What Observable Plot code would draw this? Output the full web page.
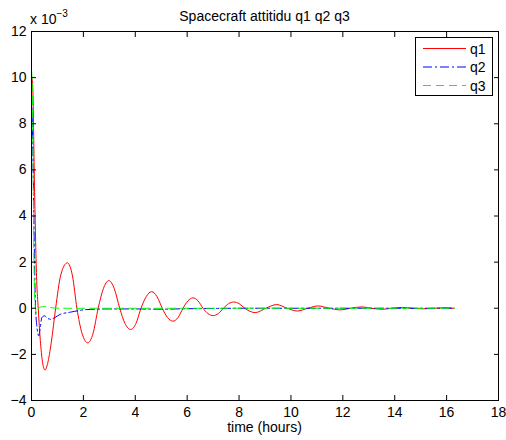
<!DOCTYPE html>
<html>
<head>
<meta charset="utf-8">
<script src="https://cdn.jsdelivr.net/npm/d3@7"></script>
<script src="https://cdn.jsdelivr.net/npm/@observablehq/plot@0.6"></script>
<style>
  html, body { margin: 0; padding: 0; background: #fff; }
  #chart svg { display: block; }
</style>
</head>
<body>
<div id="chart"></div>
<script>
// Values in units of 1e-3 (axis shows "x 10^-3")
const q1T = [0, 0.04, 0.12, 0.2, 0.26, 0.34, 0.42, 0.52, 0.62, 0.76, 0.93, 1.13, 1.38, 1.58, 1.75, 1.95, 2.17, 2.37, 2.57, 2.77, 2.98, 3.19, 3.4, 3.6, 3.82, 4.03, 4.22, 4.42, 4.63, 4.84, 5.04, 5.24, 5.45, 5.65, 5.84, 6.03, 6.22, 6.42, 6.61, 6.8, 7.0, 7.2, 7.4, 7.6, 7.8, 8.0, 8.22, 8.62, 9.03, 9.45, 9.85, 10.25, 10.65, 11.05, 11.47, 11.9, 12.3, 12.73, 13.1, 13.5, 13.9, 14.3, 14.7, 15.1, 15.5, 15.9, 16.3];
const q1V = [10.0, 9.8, 5.0, 1.2, 0, -1.4, -2.3, -2.68, -2.4, -1.5, 0, 1.45, 1.97, 1.4, 0, -1.1, -1.5, -1.1, 0, 0.85, 1.2, 0.85, 0, -0.65, -0.92, -0.65, 0, 0.5, 0.72, 0.5, 0, -0.4, -0.56, -0.4, 0, 0.32, 0.45, 0.32, 0, -0.23, -0.32, -0.23, 0, 0.2, 0.27, 0.2, 0, -0.19, 0, 0.16, 0, -0.12, 0, 0.1, 0, -0.07, 0, 0.06, 0, -0.045, 0, 0.035, 0, -0.025, 0, 0.02, 0.0];

const q2T = [0, 0.04, 0.09, 0.15, 0.2, 0.28, 0.33, 0.4, 0.5, 0.62, 0.75, 0.9, 1.1, 1.5, 2.1, 3.0, 4.0, 5.0, 6.0, 7.0, 8.0, 16.3];
const q2V = [9.2, 7.6, 4.0, 0.2, -0.7, -1.2, -0.9, -0.4, -0.33, -0.44, -0.48, -0.4, -0.27, -0.17, -0.06, -0.03, -0.03, -0.04, -0.02, -0.01, 0, 0];

const q3T = [0, 0.03, 0.06, 0.09, 0.13, 0.19, 0.25, 0.35, 0.5, 0.7, 1.0, 16.3];
const q3V = [10.3, 9.6, 6.5, 2.5, 0.3, -0.2, -0.05, 0.05, 0.08, 0.04, 0.0, 0.0];

const xTicks = [0, 2, 4, 6, 8, 10, 12, 14, 16, 18];
const yTicks = [-4, -2, 0, 2, 4, 6, 8, 10, 12];
const seriesNames = ["q1", "q2", "q3"];
const seriesColors = ["#ff0000", "#0000ff", "#00ff00"];
const seriesDash = [null, "9,3,2,3", "8,5"];

const titleText = "Spacecraft attitidu q1 q2 q3";
const xLabelText = "time (hours)";

const toRows = (T, V) => T.map((t, i) => ({t, v: V[i]}));
const series = [toRows(q1T, q1V), toRows(q2T, q2V), toRows(q3T, q3V)];

const FONT = "'Liberation Sans', Arial, Helvetica, sans-serif";

const chart = Plot.plot({
  width: 506,
  height: 440,
  marginLeft: 31,
  marginRight: 8,
  marginTop: 31,
  marginBottom: 40,
  style: {background: "#fff", fontFamily: FONT, fontSize: "14px", color: "#000"},
  x: {domain: [0, 18]},
  y: {domain: [-4, 12]},
  marks: [
    ...series.map((rows, i) => Plot.line(rows, {
      x: "t", y: "v", stroke: seriesColors[i], strokeWidth: 1,
      strokeDasharray: seriesDash[i], curve: "monotone-x"
    })),
    Plot.axisX({anchor: "bottom", ticks: xTicks, tickSize: -5, tickPadding: 12, label: null, tickFormat: d => String(d)}),
    Plot.axisX({anchor: "top", ticks: xTicks, tickSize: -5, label: null, tickFormat: () => ""}),
    Plot.axisY({anchor: "left", ticks: yTicks, tickSize: -5, tickPadding: 10, label: null}),
    Plot.axisY({anchor: "right", ticks: yTicks, tickSize: -5, label: null, tickFormat: () => ""}),
    Plot.frame({stroke: "#000", strokeWidth: 1})
  ]
});

document.getElementById("chart").appendChild(chart);

const svg = d3.select(chart);
svg.selectAll("text").style("fill", "#000");

// Title
svg.append("text")
  .attr("x", 264.5).attr("y", 21)
  .attr("text-anchor", "middle")
  .style("font-family", FONT).style("font-size", "14px").style("fill", "#000")
  .text(titleText);

// Exponent label
const ex = svg.append("text")
  .attr("x", 30).attr("y", 24)
  .attr("text-anchor", "start")
  .style("font-family", FONT).style("font-size", "14px").style("fill", "#000");
ex.append("tspan").text("x 10");
ex.append("tspan").attr("dy", -7).style("font-size", "10px").text("\u22123");

// X label
svg.append("text")
  .attr("x", 264.5).attr("y", 432)
  .attr("text-anchor", "middle")
  .style("font-family", FONT).style("font-size", "14px").style("fill", "#000")
  .text(xLabelText);

// Legend
const lg = svg.append("g");
lg.append("rect")
  .attr("x", 415.5).attr("y", 37.5).attr("width", 77).attr("height", 58)
  .attr("fill", "#fff").attr("stroke", "#000").attr("stroke-width", 1);
const rowY = [48.5, 67, 85.5];
seriesNames.forEach((name, i) => {
  lg.append("line")
    .attr("x1", 423).attr("x2", 466).attr("y1", rowY[i]).attr("y2", rowY[i])
    .attr("stroke", seriesColors[i]).attr("stroke-width", 1)
    .attr("stroke-dasharray", seriesDash[i]);
  lg.append("text")
    .attr("x", 470).attr("y", rowY[i] + 5)
    .attr("text-anchor", "start")
    .style("font-family", FONT).style("font-size", "14px").style("fill", "#000")
    .text(name);
});
</script>
</body>
</html>
